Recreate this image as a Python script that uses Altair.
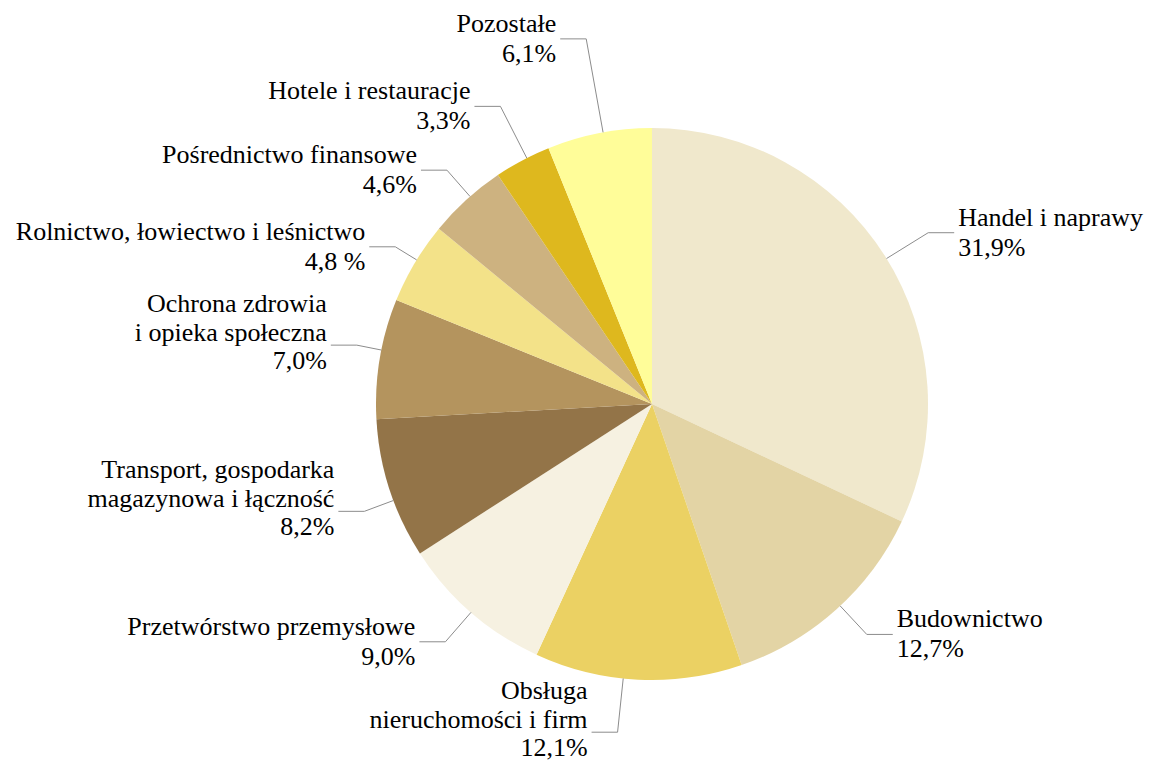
import math
import altair as alt
import pandas as pd

# ---- data -------------------------------------------------------------
categories = [
    "Handel i naprawy",
    "Budownictwo",
    "Obsługa\nnieruchomości i firm",
    "Przetwórstwo przemysłowe",
    "Transport, gospodarka\nmagazynowa i łączność",
    "Ochrona zdrowia\ni opieka społeczna",
    "Rolnictwo, łowiectwo i leśnictwo",
    "Pośrednictwo finansowe",
    "Hotele i restauracje",
    "Pozostałe",
]
values = [31.9, 12.7, 12.1, 9.0, 8.2, 7.0, 4.8, 4.6, 3.3, 6.1]
pct_labels = ["31,9%", "12,7%", "12,1%", "9,0%", "8,2%", "7,0%",
              "4,8 %", "4,6%", "3,3%", "6,1%"]

# ---- styling / layout -------------------------------------------------
colors = ["#F0E8CC", "#E3D4A5", "#EBD163", "#F6F1E1", "#937448",
          "#B4945E", "#F3E289", "#CDB280", "#DEB81E", "#FFFD99"]
# label placement: elbow distance beyond the rim (px) and angular nudge (deg)
elbow_gap = [49, 39, 54, 39, 31, 25, 25, 35, 58, 95]
angle_nudge = [0.6, -1.1, 3.1, 0.0, -2.5, 1.8, 0.7, 1.0, 1.0, 0.8]

W, H = 1136, 753
CX, CY, R = 644, 396, 276
SEG = 26            # horizontal leader segment length
TGAP_R, TGAP_L = 4, 4
FONT = "Liberation Serif"

# ---- derived geometry (from the values) ------------------------------
total = sum(values)
text_rows, lines = [], []
cum = 0.0
for i, (c, v, p) in enumerate(zip(categories, values, pct_labels)):
    mid = (cum + v / 2) / total * 2 * math.pi + math.radians(angle_nudge[i])
    cum += v
    s, co = math.sin(mid), math.cos(mid)
    x0, y0 = CX + R * s, CY - R * co
    re = R + elbow_gap[i]
    x1, y1 = CX + re * s, CY - re * co
    right = s >= 0
    x2 = x1 + SEG if right else x1 - SEG
    tx = x2 + TGAP_R if right else x2 - TGAP_L
    parts = c.split("\n") + [p]
    nl = len(parts)
    lh = 28.5 if nl == 3 else 30
    centre = y1 - (12.5 if nl == 3 else 0)
    first = centre - (nl - 1) * lh / 2
    for j, t in enumerate(parts):
        text_rows.append({"cat": c, "line": t, "tx": tx, "ty": first + j * lh,
                          "side": "R" if right else "L"})
    for k, (xx, yy) in enumerate([(x0, y0), (x1, y1), (x2, y1)]):
        lines.append({"cat": c, "k": k, "x": xx, "y": yy})

df = pd.DataFrame({"idx": list(range(len(categories))), "cat": categories, "value": values})
tdf = pd.DataFrame(text_rows)
ldf = pd.DataFrame(lines)

xs = alt.Scale(domain=[0, W], range=[0, W])
ys = alt.Scale(domain=[0, H], range=[0, H])

pie = alt.Chart(df).mark_arc(radius=R, x=CX, y=CY, strokeWidth=0).encode(
    theta=alt.Theta("value:Q", stack=True),
    color=alt.Color("cat:N", scale=alt.Scale(domain=categories, range=colors), legend=None),
    order=alt.Order("idx:Q"),
)

leaders = alt.Chart(ldf).mark_line(color="#8C8C8C", strokeWidth=1).encode(
    x=alt.X("x:Q", scale=xs, axis=None),
    y=alt.Y("y:Q", scale=ys, axis=None),
    detail="cat:N",
    order="k:Q",
)

base_text = alt.Chart(tdf)
text_r = base_text.transform_filter(alt.datum.side == "R").mark_text(
    align="left", baseline="middle", font=FONT, fontSize=26, color="#000000"
).encode(x=alt.X("tx:Q", scale=xs, axis=None), y=alt.Y("ty:Q", scale=ys, axis=None), text="line:N")
text_l = base_text.transform_filter(alt.datum.side == "L").mark_text(
    align="right", baseline="middle", font=FONT, fontSize=26, color="#000000"
).encode(x=alt.X("tx:Q", scale=xs, axis=None), y=alt.Y("ty:Q", scale=ys, axis=None), text="line:N")

chart = alt.layer(pie, leaders, text_r, text_l).properties(
    width=W, height=H, padding=0, autosize=alt.AutoSizeParams(type="none"),
    background="white",
).configure_view(stroke=None).configure_text(font=FONT)

chart.save("out.html", embed_options={"renderer": "svg", "actions": False})
